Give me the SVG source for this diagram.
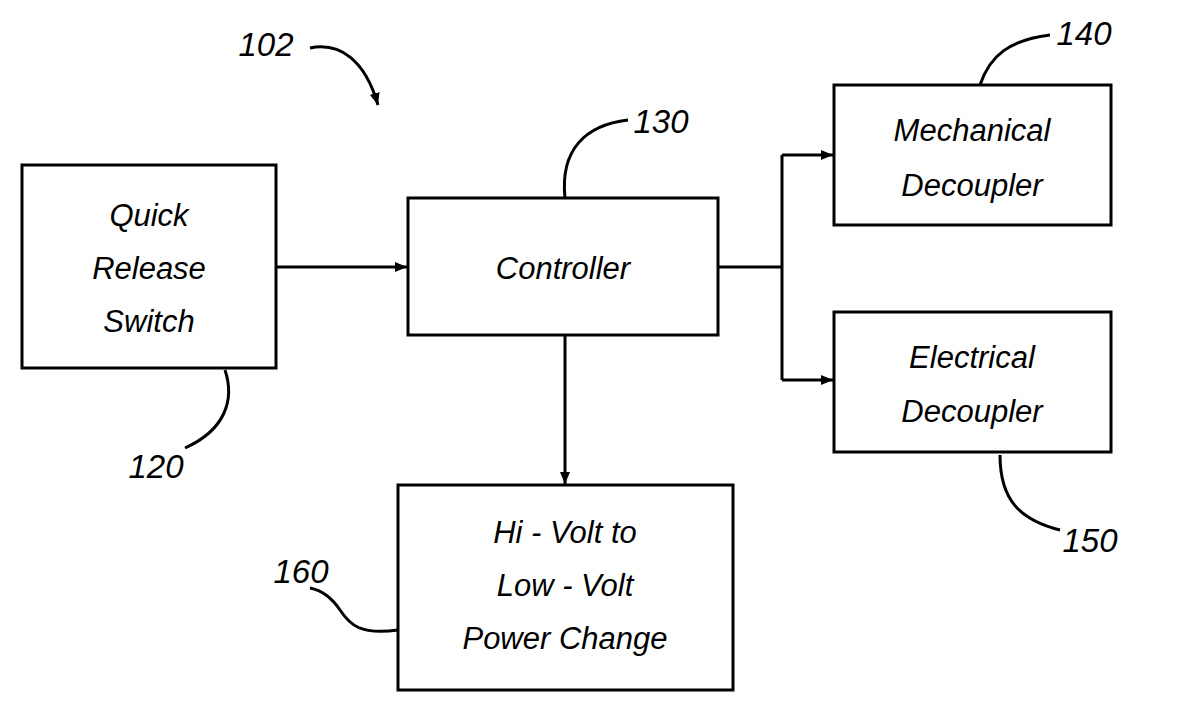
<svg xmlns="http://www.w3.org/2000/svg" width="1177" height="713" viewBox="0 0 1177 713">
<style>
.b{fill:#fff;stroke:#000;stroke-width:3}
.l{fill:none;stroke:#000;stroke-width:3}
text{font-family:"Liberation Sans",Arial,sans-serif;font-style:italic;font-size:31px;text-anchor:middle;fill:#000}
.n{font-size:33px}
</style>
<defs><marker id="a" markerWidth="12" markerHeight="10" refX="12" refY="5" orient="auto" markerUnits="userSpaceOnUse"><path d="M0,0L12,5L0,10z"/></marker></defs>
<rect width="1177" height="713" fill="#fff"/>
<g id="connectors">
<path class="l" d="M276,267H407" marker-end="url(#a)"/>
<path class="l" d="M718,267H782M782,155V380"/>
<path class="l" d="M782,155H833" marker-end="url(#a)"/>
<path class="l" d="M782,380H833" marker-end="url(#a)"/>
<path class="l" d="M565,335V484" marker-end="url(#a)"/>
<path class="l" d="M565,198C560,150 585,125 628,120"/>
<path class="l" d="M980,85C990,55 1010,40 1050,35"/>
<path class="l" d="M225,370C235,400 225,430 185,448"/>
<path class="l" d="M1000,455C1000,500 1020,520 1060,530"/>
<path class="l" d="M398,630C360,635 350,625 340,610C330,595 320,590 310,588"/>
<path class="l" d="M310,48C340,42 365,60 378,105" marker-end="url(#a)"/>
</g>
<g id="n120"><rect class="b" x="22" y="165" width="254" height="203"/><text x="149" y="226">Quick</text><text x="149" y="279">Release</text><text x="149" y="332">Switch</text><text class="n" x="156" y="478">120</text></g>
<g id="n130"><rect class="b" x="408" y="198" width="310" height="137"/><text x="563" y="279">Controller</text><text class="n" x="661" y="133">130</text></g>
<g id="n140"><rect class="b" x="834" y="85" width="277" height="140"/><text x="972" y="141">Mechanical</text><text x="972" y="196">Decoupler</text><text class="n" x="1084" y="45">140</text></g>
<g id="n150"><rect class="b" x="834" y="312" width="277" height="140"/><text x="972" y="368">Electrical</text><text x="972" y="422">Decoupler</text><text class="n" x="1090" y="552">150</text></g>
<g id="n160"><rect class="b" x="398" y="485" width="335" height="205"/><text x="565" y="543">Hi - Volt to</text><text x="565" y="596">Low - Volt</text><text x="565" y="649">Power Change</text><text class="n" x="301" y="583">160</text></g>
<g id="n102"><text class="n" x="266" y="56">102</text></g>
</svg>
